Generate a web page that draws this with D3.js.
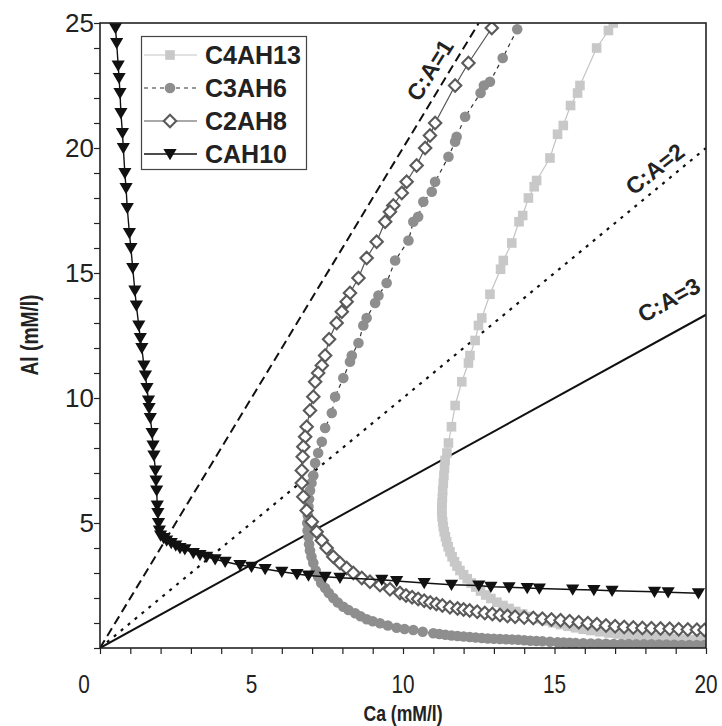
<!DOCTYPE html>
<html>
<head>
<meta charset="utf-8">
<script src="https://cdn.jsdelivr.net/npm/d3@7"></script>
<style>
  html, body { margin: 0; padding: 0; background: #fff; }
  svg { display: block; }
</style>
</head>
<body>
<svg id="chart" width="722" height="726"></svg>
<script>
// ---------------- DATA ----------------
const xTicks = [0, 5, 10, 15, 20];
const yTicks = [5, 10, 15, 20, 25];
const seriesNames = ["C4AH13", "C3AH6", "C2AH8", "CAH10"];

// reference lines C:A ratio, as [Ca, Al] end points from origin
const ratioLabels = ["C:A=1", "C:A=2", "C:A=3"];
const ratioEnds = [[12.5, 25], [20, 20], [20, 13.33]];

const c4ah13 = [
  [16.94,25.0],[16.78,24.7],[16.39,24.0],[15.84,22.5],[15.76,22.2],[15.53,21.7],[15.29,20.9],[15.1,20.55],
  [14.85,19.6],[14.41,18.7],[14.33,18.45],[14.14,18.0],[13.95,17.3],[13.83,17.05],[13.59,16.2],[13.31,15.5],
  [13.22,15.15],[12.87,14.15],[12.6,13.2],[12.49,12.9],[12.38,12.3],[12.21,11.7],[12.16,11.4],[11.94,10.65],
  [11.72,9.7],[11.6,8.85],[11.5,8.2],[11.45,7.8],[11.39,7.5],[11.37,7.2],[11.35,6.9],[11.33,6.6],[11.31,6.3],
  [11.3,6.0],[11.29,5.8],[11.28,5.6],[11.28,5.45],[11.29,5.25],[11.31,5.05],[11.33,4.85],[11.36,4.65],
  [11.4,4.45],[11.44,4.25],[11.49,4.05],[11.55,3.85],[11.62,3.65],[11.7,3.45],[11.78,3.28],[11.88,3.1],
  [12.0,2.93],[12.12,2.77],[12.25,2.6],[12.4,2.44],[12.56,2.28],[12.73,2.12],[12.9,1.98],[13.1,1.83],
  [13.3,1.7],[13.5,1.58],[13.72,1.46],[13.95,1.36],[14.2,1.26],[14.45,1.17],[14.7,1.09],[14.95,1.01],
  [15.2,0.94],[15.45,0.87],[15.7,0.81],[15.95,0.75],[16.2,0.7],[16.5,0.65],[16.8,0.6],[17.1,0.56],
  [17.4,0.52],[17.7,0.49],[18.0,0.46],[18.3,0.43],[18.6,0.41],[18.9,0.38],[19.2,0.36],[19.5,0.34],
  [19.8,0.32],[20.0,0.31]
];

const c3ah6 = [
  [13.77,24.75],[13.29,23.6],[12.87,22.65],[12.67,22.5],[12.56,22.2],[12.05,21.25],[11.77,20.45],[11.72,20.25],
  [11.5,19.65],[11.06,18.65],[10.95,18.25],[10.67,17.85],[10.5,17.25],[10.34,17.05],[10.18,16.3],[9.74,15.5],
  [9.46,14.6],[9.19,14.1],[9.08,13.8],[8.8,13.2],[8.69,12.9],[8.53,12.2],[8.31,11.7],[8.25,11.45],[8.03,10.8],
  [7.76,10.05],[7.65,9.4],[7.43,8.8],[7.32,8.25],[7.2,7.8],[7.1,7.4],[7.04,6.9],[6.98,6.6],[6.93,6.3],
  [6.9,5.95],[6.88,5.65],[6.86,5.3],[6.84,5.0],[6.85,4.7],[6.88,4.45],[6.9,4.15],[6.93,3.9],[6.98,3.65],
  [7.04,3.4],[7.12,3.1],[7.2,2.85],[7.3,2.6],[7.43,2.4],[7.55,2.2],[7.7,2.0],[7.85,1.82],[8.03,1.65],
  [8.2,1.52],[8.42,1.39],[8.6,1.27],[8.8,1.15],[9.0,1.07],[9.24,0.99],[9.5,0.9],[9.79,0.81],[10.05,0.76],
  [10.34,0.72],[10.65,0.65],[11.0,0.59],[11.2,0.56],[11.4,0.53],[11.6,0.5],[11.8,0.48],[12.0,0.46],
  [12.2,0.44],[12.4,0.42],[12.6,0.4],[12.8,0.38],[13.0,0.37],[13.2,0.36],[13.4,0.35],[13.6,0.34],
  [13.8,0.33],[14.0,0.31],[14.2,0.29],[14.4,0.28],[14.6,0.27],[14.85,0.25],[15.1,0.23],[15.3,0.22],
  [15.5,0.21],[15.7,0.2],[15.95,0.19],[16.2,0.18],[16.45,0.18],[16.7,0.17],[16.95,0.16],[17.2,0.16],
  [17.45,0.16],[17.7,0.15],[17.95,0.15],[18.2,0.15],[18.45,0.14],[18.7,0.14],[18.95,0.13],[19.2,0.12],
  [19.45,0.12],[19.7,0.12],[19.95,0.12]
];

const c2ah8 = [
  [12.93,24.8],[12.16,23.4],[11.72,22.5],[11.06,21.0],[10.89,20.5],[10.73,20.0],[10.45,19.3],[10.12,18.65],
  [9.96,18.2],[9.68,17.7],[9.57,17.45],[9.41,17.05],[9.13,16.25],[8.8,15.6],[8.53,14.8],[8.25,14.2],
  [8.14,13.85],[7.98,13.45],[7.81,13.0],[7.56,12.35],[7.43,11.7],[7.32,11.3],[7.2,11.0],[7.1,10.65],
  [7.04,10.05],[6.93,9.5],[6.82,8.85],[6.77,8.45],[6.71,8.05],[6.69,7.65],[6.66,7.1],[6.66,6.6],
  [6.71,6.05],[6.82,5.5],[6.99,5.05],[7.15,4.65],[7.32,4.3],[7.48,4.0],[7.7,3.65],[7.92,3.4],[8.14,3.2],
  [8.36,3.0],[8.64,2.8],[8.91,2.65],[9.24,2.52],[9.57,2.35],[9.9,2.2],[10.1,2.1],[10.3,2.03],[10.5,1.96],
  [10.7,1.89],[10.9,1.82],[11.1,1.76],[11.3,1.7],[11.55,1.63],[11.8,1.58],[12.0,1.54],[12.2,1.5],
  [12.45,1.45],[12.7,1.4],[12.95,1.36],[13.2,1.32],[13.45,1.28],[13.7,1.25],[14.0,1.22],[14.3,1.2],
  [14.6,1.17],[14.9,1.14],[15.2,1.11],[15.5,1.07],[15.8,1.03],[16.1,0.99],[16.4,0.95],[16.7,0.9],
  [17.0,0.87],[17.3,0.84],[17.6,0.82],[17.9,0.8],[18.2,0.79],[18.5,0.78],[18.8,0.77],[19.1,0.75],
  [19.4,0.74],[19.7,0.73],[19.95,0.72]
];

const cah10 = [
  [0.51,24.8],[0.55,24.2],[0.6,23.3],[0.63,22.8],[0.66,22.2],[0.69,21.4],[0.74,20.6],[0.77,20.0],
  [0.82,19.0],[0.86,18.4],[0.9,17.6],[0.97,16.6],[1.02,16.0],[1.08,15.2],[1.15,14.3],[1.2,13.7],
  [1.28,12.9],[1.33,12.4],[1.38,12.0],[1.45,11.3],[1.5,10.9],[1.55,10.4],[1.6,9.9],[1.62,9.6],
  [1.66,9.2],[1.72,8.6],[1.75,8.1],[1.78,7.7],[1.83,7.1],[1.85,6.7],[1.87,6.3],[1.89,5.7],[1.91,5.4],
  [1.93,5.0],[1.96,4.7],[2.0,4.5],[2.1,4.4],[2.2,4.3],[2.35,4.2],[2.5,4.1],[2.64,4.0],[2.8,3.95],
  [3.08,3.8],[3.3,3.72],[3.52,3.65],[3.8,3.55],[4.13,3.45],[4.62,3.32],[5.0,3.25],[5.45,3.16],[6.0,3.05],
  [6.5,2.96],[6.88,2.9],[7.43,2.85],[7.92,2.81],[9.3,2.73],[9.79,2.68],[10.7,2.6],[11.6,2.53],[12.5,2.5],
  [12.9,2.45],[13.5,2.43],[14.1,2.4],[14.5,2.38],[15.6,2.34],[16.3,2.32],[16.9,2.29],[18.3,2.25],
  [18.75,2.23],[19.75,2.19]
];

// ---------------- LAYOUT ----------------
const svg = d3.select("#chart");
const M = { left: 100, right: 706, top: 23, bottom: 648 };
const x = d3.scaleLinear().domain([0, 20]).range([M.left, M.right]);
const y = d3.scaleLinear().domain([0, 25]).range([M.bottom, M.top]);

svg.append("defs").append("clipPath").attr("id", "plotclip")
  .append("rect").attr("x", M.left).attr("y", M.top)
  .attr("width", M.right - M.left).attr("height", M.bottom - M.top);

const sans = "'Liberation Sans', Arial, Helvetica, sans-serif";
const condense = 0.8;

// axes (minor ticks every 1 unit, outward)
const xAxis = d3.axisBottom(x).tickValues(d3.range(0, 21, 1)).tickSize(6).tickFormat("");
const yAxis = d3.axisLeft(y).tickValues(d3.range(0, 26, 1)).tickSize(6).tickFormat("");
const gx = svg.append("g").attr("transform", `translate(0,${M.bottom})`).call(xAxis);
const gy = svg.append("g").attr("transform", `translate(${M.left},0)`).call(yAxis);
[gx, gy].forEach(g => {
  g.select(".domain").remove();
  g.selectAll(".tick line").attr("stroke", "#222").attr("stroke-width", 1.2);
});

// tick labels (x: condensed)
svg.append("g").selectAll("text").data(xTicks).join("text")
  .attr("transform", d => `translate(${d === 0 ? x(d) - 16 : x(d)},693) scale(${condense},1)`)
  .attr("text-anchor", "middle")
  .attr("font-family", sans).attr("font-size", 26).attr("fill", "#222")
  .text(d => d);

svg.append("g").selectAll("text").data(yTicks).join("text")
  .attr("x", M.left - 6)
  .attr("y", d => y(d) + 9)
  .attr("text-anchor", "end")
  .attr("font-family", sans).attr("font-size", 26).attr("fill", "#222")
  .text(d => d);

// axis titles
svg.append("text").attr("transform", `translate(403,721) scale(${condense},1)`).attr("text-anchor", "middle")
  .attr("font-family", sans).attr("font-weight", "bold").attr("font-size", 22).attr("fill", "#222")
  .text("Ca (mM/l)");
svg.append("text").attr("transform", `translate(38,335) rotate(-90) scale(${condense},1)`).attr("text-anchor", "middle")
  .attr("font-family", sans).attr("font-weight", "bold").attr("font-size", 24).attr("fill", "#222")
  .text("Al (mM/l)");

// plot content
const plot = svg.append("g").attr("clip-path", "url(#plotclip)");

// ratio lines
const ratioStyles = [
  { dash: "9,5", w: 2 },
  { dash: "3,6", w: 2.2 },
  { dash: null, w: 2 }
];
ratioEnds.forEach((e, i) => {
  const ln = plot.append("line")
    .attr("x1", x(0)).attr("y1", y(0)).attr("x2", x(e[0])).attr("y2", y(e[1]))
    .attr("stroke", "#111").attr("stroke-width", ratioStyles[i].w);
  if (ratioStyles[i].dash) ln.attr("stroke-dasharray", ratioStyles[i].dash);
});

const line = d3.line().x(d => x(d[0])).y(d => y(d[1]));

const styles = {
  C4AH13: { data: c4ah13, lineColor: "#c4c4c4", lineWidth: 1.2, dash: null },
  C3AH6: { data: c3ah6, lineColor: "#333", lineWidth: 1.2, dash: "4,4" },
  C2AH8: { data: c2ah8, lineColor: "#555", lineWidth: 1.2, dash: null },
  CAH10: { data: cah10, lineColor: "#111", lineWidth: 1.4, dash: null }
};

function drawMarker(g, name, cx, cy) {
  if (name === "C4AH13") {
    const h = 4.8;
    g.append("rect").attr("x", cx - h).attr("y", cy - h).attr("width", 2 * h).attr("height", 2 * h)
      .attr("fill", "#c8c8c8");
  } else if (name === "C3AH6") {
    g.append("circle").attr("cx", cx).attr("cy", cy).attr("r", 5.3).attr("fill", "#8e8e8e");
  } else if (name === "C2AH8") {
    const r = 6.2;
    g.append("path").attr("d", `M${cx},${cy - r}L${cx + r},${cy}L${cx},${cy + r}L${cx - r},${cy}Z`)
      .attr("fill", "#fff").attr("stroke", "#5a5a5a").attr("stroke-width", 2.1);
  } else {
    const w = 6.6;
    g.append("path").attr("d", `M${cx - w},${cy - w * 0.75}L${cx + w},${cy - w * 0.75}L${cx},${cy + w * 0.95}Z`)
      .attr("fill", "#111");
  }
}

seriesNames.forEach(name => {
  const st = styles[name];
  const g = plot.append("g");
  const p = g.append("path").datum(st.data).attr("d", line)
    .attr("fill", "none").attr("stroke", st.lineColor).attr("stroke-width", st.lineWidth);
  if (st.dash) p.attr("stroke-dasharray", st.dash);
  st.data.forEach(d => drawMarker(g, name, x(d[0]), y(d[1])));
});

// ratio labels
const ratioLabelPos = [[430, 70, -58], [655, 169, -38], [669, 300, -29]];
ratioLabels.forEach((t, i) => {
  const p = ratioLabelPos[i];
  svg.append("text").attr("transform", `translate(${p[0]},${p[1]}) rotate(${p[2]})`)
    .attr("text-anchor", "middle").attr("dominant-baseline", "central")
    .attr("font-family", sans).attr("font-weight", "bold").attr("font-size", 23).attr("fill", "#222")
    .text(t);
});

// frame
svg.append("rect").attr("x", M.left).attr("y", M.top)
  .attr("width", M.right - M.left).attr("height", M.bottom - M.top)
  .attr("fill", "none").attr("stroke", "#222").attr("stroke-width", 1.6);

// legend
const lg = svg.append("g");
lg.append("rect").attr("x", 141.5).attr("y", 36.5).attr("width", 165).attr("height", 133)
  .attr("fill", "#fff").attr("stroke", "#444").attr("stroke-width", 1.2);
seriesNames.forEach((name, i) => {
  const st = styles[name];
  const cy = 55 + i * 33;
  const ln = lg.append("line").attr("x1", 144).attr("x2", 197).attr("y1", cy).attr("y2", cy)
    .attr("stroke", st.lineColor).attr("stroke-width", st.lineWidth);
  if (st.dash) ln.attr("stroke-dasharray", st.dash);
  drawMarker(lg, name, 170, cy);
  lg.append("text").attr("x", 205).attr("y", cy + 9)
    .attr("font-family", sans).attr("font-weight", "bold").attr("font-size", 25).attr("fill", "#222")
    .text(name);
});
</script>
</body>
</html>
